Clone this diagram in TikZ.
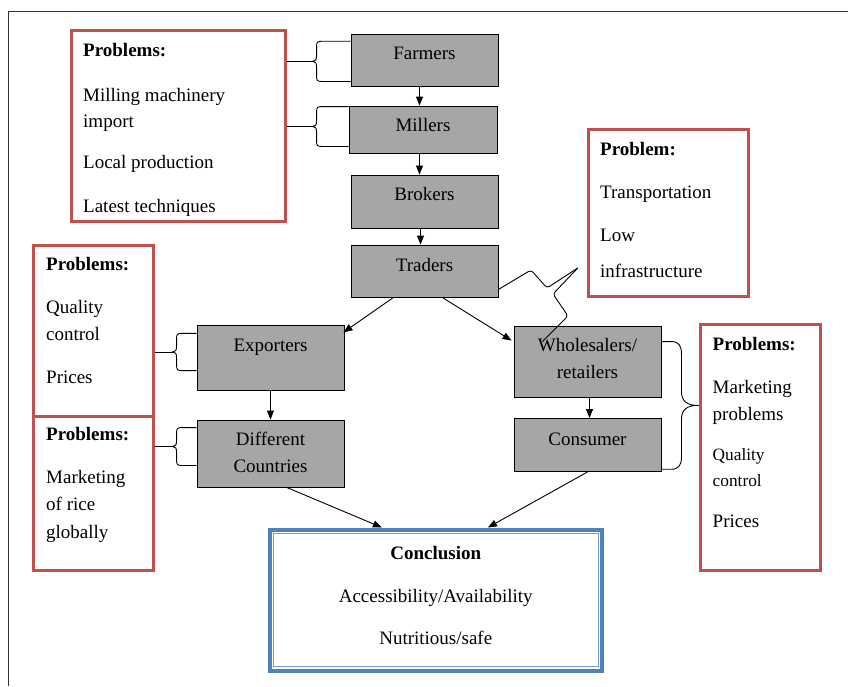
\documentclass[tikz,border=0pt]{standalone}
\usepackage{fontspec}
\setmainfont{Liberation Serif}
\usetikzlibrary{arrows.meta,calc}
\definecolor{probred}{HTML}{C0504D}
\definecolor{conblue}{HTML}{4F81BD}
\definecolor{boxgray}{HTML}{A6A6A6}
\newcommand\leftbrace[4]{%
 \draw[brc] let \p1=(#1), \p2=(#2), \p3=($(#1)!0.5!(#2)$) in
 (\p1) -- (\x1-#3pt+5pt,\y1)
 .. controls (\x1-#3pt+1pt,\y1) and (\x1-#3pt,\y1-1pt) .. (\x1-#3pt,\y1-5pt)
 -- (\x1-#3pt,\y3+6pt)
 .. controls (\x1-#3pt,\y3+1.5pt) and (\x1-#3pt-1pt,\y3) .. (\x1-#3pt-4pt,\y3) coordinate (#4)
 .. controls (\x1-#3pt-1pt,\y3) and (\x1-#3pt,\y3-1.5pt) .. (\x1-#3pt,\y3-6pt)
 -- (\x1-#3pt,\y2+5pt)
 .. controls (\x1-#3pt,\y2+1pt) and (\x1-#3pt+1pt,\y2) .. (\x1-#3pt+5pt,\y2) -- (\p2);}
\newcommand\rightbrace[4]{%
 \draw[brc] let \p1=(#1), \p2=(#2), \p3=($(#1)!0.5!(#2)$) in
 (\p1) -- (\x1+#3pt-10pt,\y1)
 .. controls (\x1+#3pt-3pt,\y1) and (\x1+#3pt,\y1-4pt) .. (\x1+#3pt,\y1-12pt)
 -- (\x1+#3pt,\y3+14pt)
 .. controls (\x1+#3pt,\y3+4pt) and (\x1+#3pt+6pt,\y3) .. (\x1+#3pt+16pt,\y3) coordinate (#4)
 .. controls (\x1+#3pt+6pt,\y3) and (\x1+#3pt,\y3-4pt) .. (\x1+#3pt,\y3-14pt)
 -- (\x1+#3pt,\y2+12pt)
 .. controls (\x1+#3pt,\y2+4pt) and (\x1+#3pt-3pt,\y2) .. (\x1+#3pt-10pt,\y2) -- (\p2);}
\begin{document}
\begin{tikzpicture}[x=1pt,y=-1pt,
 flowbox/.style={draw=black,line width=0.9pt,fill=boxgray,inner sep=0pt},
 probbox/.style={draw=probred,line width=2.8pt,fill=white,inner sep=0pt},
 txt/.style={inner sep=0pt,font=\fontsize{19}{23}\selectfont},
 ctxt/.style={txt,anchor=base},
 ltxt/.style={txt,anchor=base west},
 btxt/.style={ltxt,font=\fontsize{19}{23}\selectfont\bfseries},
 bctxt/.style={ctxt,font=\fontsize{19}{23}\selectfont\bfseries},
 stxt/.style={ltxt,font=\fontsize{17.3}{21}\selectfont},
 arr/.style={line width=0.9pt,-{Triangle[length=9pt,width=7pt]}},
 brc/.style={line width=0.9pt},
]
\useasboundingbox (0,0) rectangle (848,686);
% page frame
\draw[line width=1pt,black!80] (848,11) -- (8.4,11) -- (8.4,686);

% flow boxes
\node[flowbox,minimum width=147pt,minimum height=52pt] (farmers) at (424.5,60) {};
\node[flowbox,minimum width=148pt,minimum height=47pt] (millers) at (423,129.5) {};
\node[flowbox,minimum width=147pt,minimum height=53pt] (brokers) at (424.5,201.5) {};
\node[flowbox,minimum width=147pt,minimum height=52pt] (traders) at (424.5,271) {};
\node[flowbox,minimum width=147pt,minimum height=65pt] (exporters) at (270.5,358.3) {};
\node[flowbox,minimum width=147pt,minimum height=67pt] (countries) at (270.5,453.5) {};
\node[flowbox,minimum width=147pt,minimum height=71pt] (wholesalers) at (587.5,361.5) {};
\node[flowbox,minimum width=147pt,minimum height=53pt] (consumer) at (587.5,445) {};

\node[ctxt] (farmersT) at (424.5,59) {Farmers};
\node[ctxt] (millersT) at (423,131) {Millers};
\node[ctxt] (brokersT) at (424.5,200) {Brokers};
\node[ctxt] (tradersT) at (424.5,271) {Traders};
\node[ctxt] (exportersT) at (270.5,351) {Exporters};
\node[ctxt] (countriesT1) at (270.5,445) {Different};
\node[ctxt] (countriesT2) at (270.5,472) {Countries};
\node[ctxt] (wholesalersT1) at (587.5,351) {Wholesalers/};
\node[ctxt] (wholesalersT2) at (587.5,378) {retailers};
\node[ctxt] (consumerT) at (587.5,445) {Consumer};

% problem boxes
\node[probbox,minimum width=214.5pt,minimum height=190.9pt] (tlbox) at (178.6,126.2) {};
\node[btxt] (tl1) at (83,56) {Problems:};
\node[ltxt] (tl2) at (83,101) {Milling machinery};
\node[ltxt] (tl3) at (83,127) {import};
\node[ltxt] (tl4) at (83,168) {Local production};
\node[ltxt] (tl5) at (83,212) {Latest techniques};

\node[probbox,minimum width=160.5pt,minimum height=167.2pt] (trbox) at (668.4,213) {};
\node[btxt] (tr1) at (600,155) {Problem:};
\node[ltxt] (tr2) at (600,198) {Transportation};
\node[ltxt] (tr3) at (600,241) {Low};
\node[ltxt] (tr4) at (600,277) {infrastructure};

\node[probbox,minimum width=119.9pt,minimum height=193pt] (lb1) at (93.7,342) {};
\node[btxt] (lb1a) at (46,270) {Problems:};
\node[ltxt] (lb1b) at (46,313) {Quality};
\node[ltxt] (lb1c) at (46,340) {control};
\node[ltxt] (lb1d) at (46,383) {Prices};

\node[probbox,minimum width=119.9pt,minimum height=153.9pt] (lb2) at (93.7,493.4) {};
\node[btxt] (lb2a) at (46,440) {Problems:};
\node[ltxt] (lb2b) at (46,483) {Marketing};
\node[ltxt] (lb2c) at (46,510) {of rice};
\node[ltxt] (lb2d) at (46,538) {globally};

\node[probbox,minimum width=119.6pt,minimum height=245.9pt] (rb) at (760.5,447.4) {};
\node[btxt] (rb1) at (712.5,350) {Problems:};
\node[ltxt] (rb2) at (712.5,393) {Marketing};
\node[ltxt] (rb3) at (712.5,420) {problems};
\node[stxt] (rb4) at (712.5,460) {Quality};
\node[stxt] (rb5) at (712.5,486) {control};
\node[ltxt] (rb6) at (712.5,527) {Prices};

% conclusion
\node[draw=conblue,line width=4pt,fill=white,minimum width=332.5pt,minimum height=141pt,inner sep=0pt] (concl) at (435.75,600) {};
\draw[conblue!80,line width=1pt] ($(concl.north west)+(6,6)$) rectangle ($(concl.south east)+(-6,-6)$);
\node[bctxt] (conclT1) at (435.75,559) {Conclusion};
\node[ctxt] (conclT2) at (435.75,602.7) {Accessibility/Availability};
\node[ctxt] (conclT3) at (435.75,644) {Nutritious/safe};

% arrows
\coordinate (fs) at ($(farmers.south)+(-5,0)$);
\coordinate (ms) at ($(millers.south)+(-3.5,0)$);
\coordinate (bs) at ($(brokers.south)+(-4,0)$);
\coordinate (ws) at ($(wholesalers.south)+(2,0)$);
\draw[arr] (fs) -- (fs |- millers.north);
\draw[arr] (ms) -- (ms |- brokers.north);
\draw[arr] (bs) -- (bs |- traders.north);
\draw[arr] ($(traders.south west)!0.29!(traders.south east)$) -- ($(exporters.north east)+(-1,7)$);
\draw[arr] ($(traders.south west)!0.62!(traders.south east)$) -- ($(wholesalers.north west)+(-2,15)$);
\draw[arr] (exporters.south) -- (countries.north);
\draw[arr] (ws) -- (ws |- consumer.north);
\draw[arr] ($(countries.south west)!0.61!(countries.south east)$) -- ($(concl.north west)!0.34!(concl.north east)$);
\draw[arr] (consumer.south) -- ($(concl.north west)!0.655!(concl.north east)$);

% braces
\leftbrace{$(farmers.north west)+(0,7.7)$}{$(farmers.south west)+(0,-5)$}{34}{ftip}
\leftbrace{$(millers.north west)+(0,1)$}{$(millers.south west)+(0,-7)$}{32}{mtip}
\leftbrace{$(exporters.north west)+(0,8)$}{$(exporters.south west)+(0,-20.7)$}{20}{etip}
\leftbrace{$(countries.north west)+(0,8)$}{$(countries.south west)+(0,-22)$}{20}{ctip}
\rightbrace{$(wholesalers.north east)+(0,16)$}{$(consumer.south east)+(0,-2.7)$}{20}{rtip}
\draw[brc] (tlbox.east |- ftip) -- (ftip);
\draw[brc] (tlbox.east |- mtip) -- (mtip);
\draw[brc] (lb1.east |- etip) -- (etip);
\draw[brc] (lb2.east |- ctip) -- (ctip);
\draw[brc] (rtip) -- (rb.west |- rtip);

% callout from traders to transport problem
\coordinate (calltip) at ($(trbox.west)+(-9,55)$);
\draw[brc,rounded corners=3pt] ($(traders.south east)+(0,-8)$) -- (531,270) -- (547,288) -- (calltip);
\draw[brc,rounded corners=3pt] (calltip) -- (553,294) -- (568,316) -- ($(wholesalers.north west)+(29,16)$);
\end{tikzpicture}
\end{document}
